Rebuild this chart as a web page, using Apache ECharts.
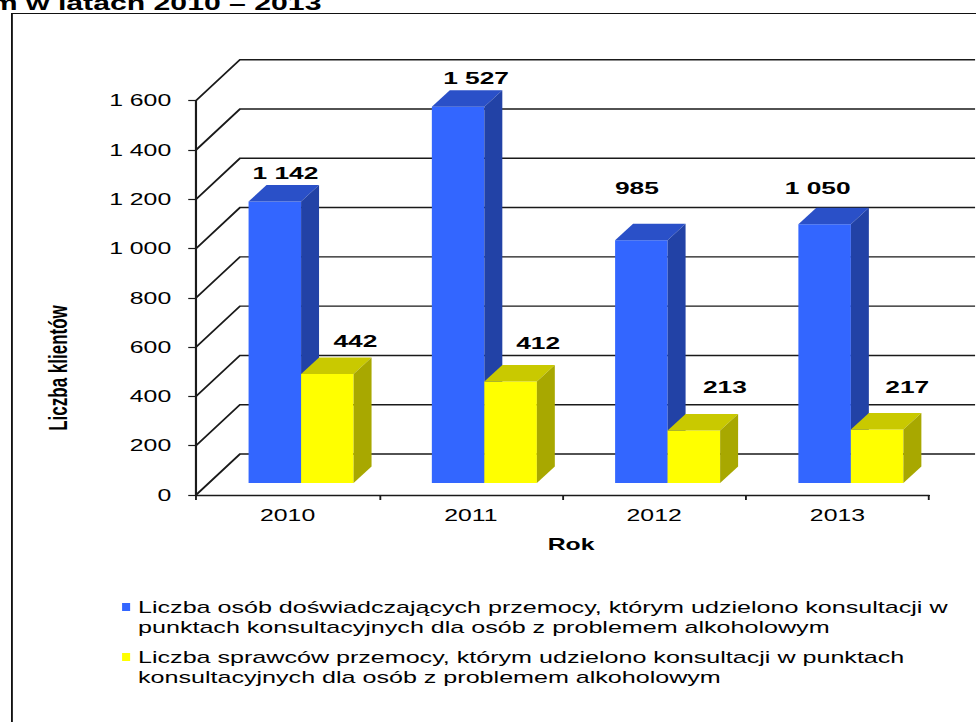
<!DOCTYPE html>
<html>
<head>
<meta charset="utf-8">
<script src="https://cdn.jsdelivr.net/npm/echarts@6/dist/echarts.min.js"></script>
<style>
  html, body { margin: 0; padding: 0; background: #fff; overflow: hidden; }
  /* the chart is laid out narrow and widened horizontally, as in the printed report */
  #chart { width: 630px; height: 722px; transform: scaleX(1.5492); transform-origin: 0 0; }
</style>
</head>
<body>
<div id="chart"></div>
<script>
// ---- data ----
const years = ['2010', '2011', '2012', '2013'];
const victims = [1142, 1527, 985, 1050];
const perpetrators = [442, 412, 213, 217];
const seriesNames = [
  'Liczba osób doświadczających przemocy, którym udzielono konsultacji w punktach konsultacyjnych dla osób z problemem alkoholowym',
  'Liczba sprawców przemocy, którym udzielono konsultacji w punktach konsultacyjnych dla osób z problemem alkoholowym'
];
const legendLines = [
  ['Liczba osób doświadczających przemocy, którym udzielono konsultacji w', 'punktach konsultacyjnych dla osób z problemem alkoholowym'],
  ['Liczba sprawców przemocy, którym udzielono konsultacji w punktach', 'konsultacyjnych dla osób z problemem alkoholowym']
];
const yTicks = [0, 200, 400, 600, 800, 1000, 1200, 1400, 1600];
const titleText = 'm w latach 2010 – 2013';
const xAxisName = 'Rok';
const yAxisName = 'Liczba klientów';

// ---- look ----
const FONT = "'Liberation Sans', Arial, sans-serif";
const WALL_DX = 28.4, WALL_DY = -41;      // depth of the back wall
const BAR_SHIFT = 0.0735, BAR_W = 0.2865; // fractions of a category band
const BAR_LIFT = -12;                     // bars stand a little behind the front edge
const BAR_DX = 11.6, BAR_DY = -16.5;      // depth of each column
const faces = [
  { front: '#3366ff', top: '#2a50c8', side: '#2242a6' },
  { front: '#ffff00', top: '#c9c900', side: '#a8a800' }
];
// label nudges from the top-front centre of each column
const labelNudge = [
  [[6.8, -28.5], [11.6, -28.6], [-2.9, -52], [-4.5, -36]],
  [[18.1, -33], [17.8, -38], [20, -43.5], [19.4, -42.5]]
];

const fmt = v => String(v).replace(/\B(?=(\d{3})+(?!\d))/g, ' ');

function columnRenderer(k) {
  return function (params, api) {
    const idx = api.value(0);
    const val = api.value(1);
    const base = api.coord([idx, 0]);
    const top = api.coord([idx, val]);
    const band = api.size([1, 0])[0];
    const bw = band * BAR_W;
    const x0 = base[0] + band * BAR_SHIFT - bw + k * bw;
    const x1 = x0 + bw;
    const yb = base[1] + BAR_LIFT;
    const yt = top[1] + BAR_LIFT;
    const f = faces[k];
    const nudge = labelNudge[k][params.dataIndex];
    return {
      type: 'group',
      children: [
        { type: 'rect', shape: { x: x0, y: yt, width: bw, height: yb - yt }, style: { fill: f.front } },
        { type: 'polygon', shape: { points: [[x0, yt], [x1, yt], [x1 + BAR_DX, yt + BAR_DY], [x0 + BAR_DX, yt + BAR_DY]] }, style: { fill: f.top } },
        { type: 'polygon', shape: { points: [[x1, yt], [x1 + BAR_DX, yt + BAR_DY], [x1 + BAR_DX, yb + BAR_DY], [x1, yb]] }, style: { fill: f.side } },
        { type: 'text', x: x0 + bw / 2 + nudge[0], y: yt + nudge[1],
          style: { text: fmt(val), font: 'bold 17px ' + FONT, fill: '#000', align: 'center', verticalAlign: 'middle' } }
      ]
    };
  };
}

function wallRenderer(params, api) {
  const cs = params.coordSys;
  const y = api.coord([0, api.value(0)])[1];
  const gx = cs.x;
  return {
    type: 'polyline',
    shape: { points: [[gx, y], [gx + WALL_DX, y + WALL_DY], [gx + cs.width + WALL_DX + 1.3, y + WALL_DY]] },
    style: { stroke: '#1a1a1a', lineWidth: 1.4, fill: null }
  };
}

const legendGraphics = [];
legendLines.forEach((lines, i) => {
  const cy = 607 + i * 50;
  legendGraphics.push({ type: 'rect', left: 78.8, top: cy - 4, shape: { width: 5.2, height: 8 }, style: { fill: faces[i].front } });
  legendGraphics.push({ type: 'text', x: 89.1, y: cy - 10,
    style: { text: lines.join('\n'), font: '16.2px ' + FONT, lineHeight: 20, fill: '#000', align: 'left', verticalAlign: 'top' } });
});

const chart = echarts.init(document.getElementById('chart'), null, { renderer: 'svg' });
chart.setOption({
  animation: false,
  backgroundColor: '#fff',
  grid: { left: 126.5, right: 30.3, top: 100.7, bottom: 227, outerBoundsMode: 'none' },
  xAxis: {
    type: 'category', data: years,
    name: xAxisName, nameLocation: 'middle', nameGap: 41,
    nameTextStyle: { fontFamily: FONT, fontSize: 16, fontWeight: 'bold', color: '#000', padding: [0, 0, 0, 11] },
    axisLine: { lineStyle: { color: '#1a1a1a', width: 1.4 } },
    axisTick: { show: true, length: 5, interval: 0, lineStyle: { color: '#1a1a1a', width: 1.2 } },
    axisLabel: { fontFamily: FONT, fontSize: 16, color: '#000', margin: 12, interval: 0 },
    splitLine: { show: false }
  },
  yAxis: {
    type: 'value', min: 0, max: 1600, interval: 200,
    axisLine: { show: true, lineStyle: { color: '#1a1a1a', width: 1.4 } },
    axisTick: { show: true, length: 5, lineStyle: { color: '#1a1a1a', width: 1.2 } },
    axisLabel: { fontFamily: FONT, fontSize: 16, color: '#000', margin: 16, formatter: fmt },
    splitLine: { show: false }
  },
  graphic: [
    { type: 'rect', left: 5.2, top: 11, shape: { width: 640, height: 760 }, style: { fill: null, stroke: '#111', lineWidth: 1.2 } },
    { type: 'text', x: 207.5, y: 3, style: { text: titleText, font: 'bold 19.5px ' + FONT, fill: '#000', align: 'right', verticalAlign: 'middle' } },
    { type: 'text', x: 37.4, y: 368, rotation: Math.PI / 2,
      style: { text: yAxisName, font: 'bold 17px ' + FONT, fill: '#000', align: 'center', verticalAlign: 'middle' } }
  ].concat(legendGraphics),
  series: [
    { type: 'custom', name: 'wall', data: yTicks.map(v => [v]), renderItem: wallRenderer, clip: false, silent: true, z: 1 },
    { type: 'custom', name: seriesNames[0], data: years.map((y, i) => [i, victims[i]]), renderItem: columnRenderer(0), clip: false, z: 3 },
    { type: 'custom', name: seriesNames[1], data: years.map((y, i) => [i, perpetrators[i]]), renderItem: columnRenderer(1), clip: false, z: 3 }
  ]
});
</script>
</body>
</html>
